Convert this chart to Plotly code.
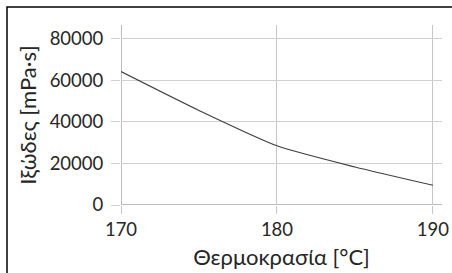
import plotly.graph_objects as go

temperature = [170, 175, 180, 185, 190]
viscosity = [64200, 45500, 28500, 18300, 9500]
y_ticks = [0, 20000, 40000, 60000, 80000]
x_ticks = [170, 180, 190]

W, H = 452, 273
ML, MR, MT, MB = 121, 10, 25, 68
pw, ph = W - ML - MR, H - MT - MB

font_family = "Lato, 'Open Sans', sans-serif"

fig = go.Figure(go.Scatter(
    x=temperature, y=viscosity, mode="lines",
    line=dict(color="#404040", width=1.2, shape="spline", smoothing=0.6),
    hoverinfo="skip"))

def px2paper_x(px):
    return (px - ML) / pw

def px2paper_y(py):
    return (H - MB - py) / ph

fig.add_shape(type="path", xref="paper", yref="paper",
              path=f"M {px2paper_x(7)} {px2paper_y(300)} L {px2paper_x(7)} {px2paper_y(7)} L {px2paper_x(480)} {px2paper_y(7)}",
              line=dict(color="#000000", width=1.5))

fig.update_layout(
    width=W, height=H,
    margin=dict(l=ML, r=MR, t=MT, b=MB),
    paper_bgcolor="white", plot_bgcolor="white",
    showlegend=False,
    font=dict(family=font_family, size=18.5, color="#262626"),
    xaxis=dict(range=[170, 190.58], tickvals=x_ticks, showgrid=True,
               gridcolor="#c6c6c6", gridwidth=1, ticks="outside", ticklen=8,
               tickcolor="#c6c6c6", showline=False, zeroline=False,
               title=dict(text="Θερμοκρασία [°C]", standoff=10),
               ticklabelstandoff=0, automargin=False),
    yaxis=dict(range=[0, 86600], tickvals=y_ticks, tickformat="d", showgrid=True,
               gridcolor="#d0d0d0", gridwidth=1, ticks="outside", ticklen=9,
               tickcolor="#d0d0d0", showline=False, zeroline=False,
               title=dict(text="Ιξώδες [mPa·s]", standoff=6),
               ticklabelstandoff=4, automargin=False),
)
# axis lines
fig.add_shape(type="line", xref="x", yref="paper", x0=170, x1=170, y0=0, y1=1,
              line=dict(color="#bdbdbd", width=2), layer="below")
fig.add_shape(type="line", xref="paper", yref="y", x0=0, x1=1, y0=0, y1=0,
              line=dict(color="#bdbdbd", width=2), layer="below")

fig.write_html("out.html",
               config={"displayModeBar": False, "staticPlot": True},
               post_script="document.body.style.margin='0';document.body.style.overflow='hidden';")
